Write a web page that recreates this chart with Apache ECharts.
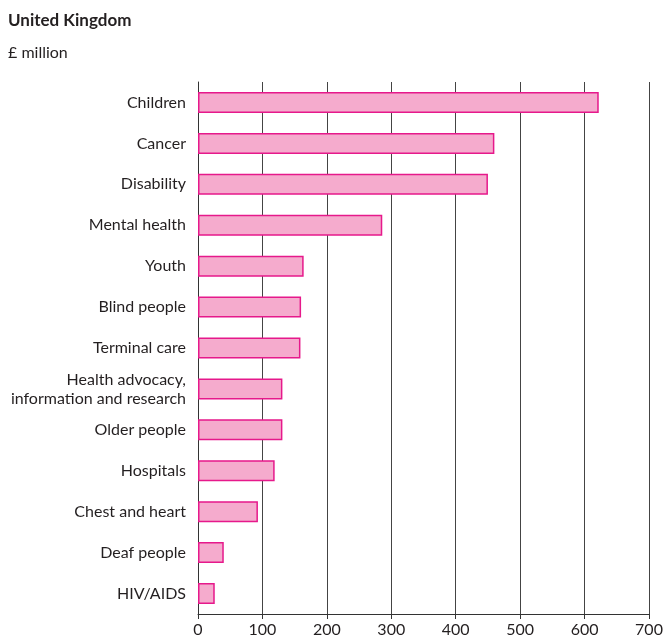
<!DOCTYPE html>
<html lang="en">
<head>
    <meta charset="UTF-8">
    <title>United Kingdom</title>
    <script type="text/javascript" src="https://cdn.jsdelivr.net/npm/echarts@6/dist/echarts.min.js"></script>
</head>
<body style="height: 643px; margin: 0; width: 666px">
<div id="container" style="height: 100%"></div>
<script type="text/javascript">
    var categories = ['Children', 'Cancer', 'Disability', 'Mental health', 'Youth', 'Blind people',
        'Terminal care', 'Health advocacy,\ninformation and research', 'Older people', 'Hospitals',
        'Chest and heart', 'Deaf people', 'HIV/AIDS'];
    var values = [622, 460, 450, 286, 164, 160, 159, 131, 131, 119, 93, 40, 26];
    var tickMax = 700;
    var tickStep = 100;

    var dom = document.getElementById("container");
    var myChart = echarts.init(dom);
    var font = 'Lato, "Open Sans", sans-serif';

    var option = {
        animation: false,
        title: [
            {
                text: 'United Kingdom',
                left: 8, top: 12, padding: 0,
                textStyle: {fontFamily: font, fontSize: 17, fontWeight: 'bold', color: '#231f20'}
            },
            {
                text: '£ million',
                left: 8, top: 45, padding: 0,
                textStyle: {fontFamily: font, fontSize: 16, fontWeight: 'normal', color: '#231f20'}
            }
        ],
        grid: {left: 198, right: 17, top: 82, bottom: 29, containLabel: false},
        xAxis: {
            type: 'value',
            min: 0, max: tickMax, interval: tickStep,
            axisLine: {show: true, lineStyle: {color: '#333', width: 1}},
            axisTick: {show: true, inside: false, length: 5, lineStyle: {color: '#333'}},
            axisLabel: {fontFamily: font, fontSize: 16, color: '#231f20', margin: 8},
            splitLine: {show: true, lineStyle: {color: '#444', width: 1}}
        },
        yAxis: {
            type: 'category',
            data: categories,
            inverse: true,
            axisLine: {show: true, lineStyle: {color: '#333', width: 1}},
            axisTick: {show: false},
            axisLabel: {fontFamily: font, fontSize: 16, color: '#231f20', margin: 12, lineHeight: 19, align: 'right'}
        },
        series: [{
            type: 'bar',
            data: values,
            barWidth: 21,
            itemStyle: {color: '#f5abcd', borderColor: '#e6198b', borderWidth: 1.5}
        }]
    };
    myChart.setOption(option, true);
</script>
</body>
</html>
